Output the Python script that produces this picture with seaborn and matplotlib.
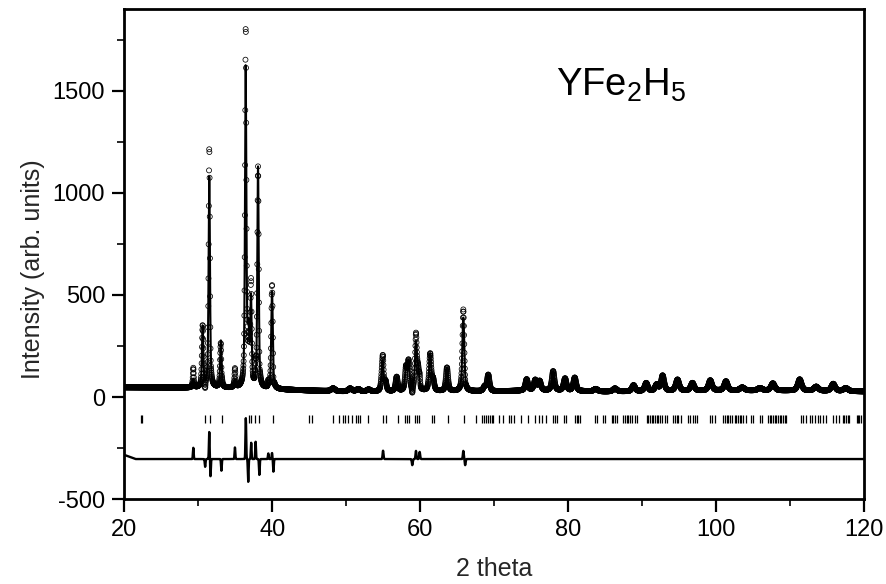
import numpy as np
import pandas as pd
import matplotlib
matplotlib.use("Agg")
import matplotlib.pyplot as plt
import seaborn as sns
from matplotlib.ticker import MultipleLocator

# ---------------- data ----------------
# Bragg peaks of the calculated profile: position (deg 2theta), height above background, FWHM (deg)
peak_pos = [29.30, 30.56, 31.46, 33.02, 34.93, 36.38, 36.75, 37.10, 38.05, 39.94,
            48.2, 50.5, 51.6, 53.0,
            54.87, 55.28, 56.79, 58.05, 58.40, 59.40, 59.71, 61.32, 61.72, 63.59,
            65.80, 68.67, 69.17, 74.36, 75.52, 76.12, 77.94, 79.55, 80.86,
            83.7, 86.3, 88.81, 90.52, 91.93, 92.74, 94.75, 96.77, 99.18, 101.30,
            103.5, 105.9, 107.64, 111.27, 113.5, 115.80, 117.5]
peak_amp = [40, 300, 1040, 230, 35, 1560, 250, 420, 1080, 480,
            14, 15, 12, 10,
            150, 45, 70, 110, 140, 230, 90, 180, 50, 115,
            360, 20, 80, 55, 50, 45, 95, 60, 65,
            12, 15, 30, 40, 30, 75, 55, 38, 50, 45,
            15, 12, 35, 55, 20, 35, 15]
peak_fwhm = [0.25, 0.22, 0.22, 0.22, 0.3, 0.22, 0.28, 0.22, 0.22, 0.24,
             0.6, 0.6, 0.6, 0.6,
             0.32, 0.32, 0.35, 0.32, 0.32, 0.32, 0.32, 0.34, 0.34, 0.35,
             0.32, 0.4, 0.4, 0.42, 0.42, 0.42, 0.42, 0.45, 0.45,
             0.6, 0.6, 0.5, 0.5, 0.5, 0.5, 0.55, 0.55, 0.55, 0.55,
             0.7, 0.7, 0.6, 0.6, 0.7, 0.6, 0.7]

# background of the pattern
bg_pos = [20, 25, 30, 35, 40, 45, 50, 55, 60, 70, 75, 80, 85, 90, 100, 110, 120]
bg_val = [48, 47, 45, 42, 38, 32, 27, 26, 28, 28, 32, 30, 27, 28, 32, 32, 28]

# misfit features (observed - calculated)
res_pos = [29.30, 30.90, 31.46, 31.62, 33.10, 34.93, 36.40, 36.72, 37.12, 37.72,
           38.23, 39.44, 39.94, 40.13, 54.95, 58.9, 59.40, 59.9, 65.80, 66.05]
res_amp = [55, -38, 135, -85, -57, 57, 200, -112, 80, 85,
           -78, 28, 30, -62, 41, -30, 40, 35, 40, -30]
res_wid = [0.05, 0.05, 0.05, 0.05, 0.05, 0.05, 0.05, 0.05, 0.05, 0.05,
           0.05, 0.05, 0.05, 0.05, 0.06, 0.06, 0.06, 0.06, 0.06, 0.06]

# offset of the difference curve
diff_base_pos = [20, 21.5, 120]
diff_base_val = [-283, -303, -303]

# reflection markers
refl_pos = [22.17, 22.35, 30.88, 31.55, 33.12, 36.86, 37.08, 37.64, 38.23, 40.13,
            44.98, 45.30, 48.18, 48.93, 49.58, 49.83, 50.23, 50.73, 51.23, 51.58,
            51.90, 52.98, 55.00, 55.30, 56.92, 57.95, 58.25, 58.50, 59.25, 59.50,
            59.80, 61.52, 61.83, 63.76, 65.92, 67.49, 68.39, 68.54, 68.84, 69.14,
            69.34, 69.64, 69.84, 70.65, 71.18, 71.99, 72.30, 72.62, 73.66, 74.56,
            75.46, 76.05, 76.50, 77.04, 77.96, 78.18, 78.49, 79.41, 79.67, 80.90,
            81.13, 81.35, 81.57, 83.60, 83.83, 84.73, 84.95, 85.85, 86.08, 86.30,
            86.53, 87.43, 87.65, 87.88, 88.10, 88.33, 88.55, 89.00, 89.23, 90.58,
            90.81, 91.03, 91.25, 91.48, 91.70, 91.93, 92.15, 92.38, 92.60, 93.04,
            93.27, 94.17, 94.40, 94.62, 94.84, 95.16, 96.20, 96.42, 96.87, 97.09,
            97.32, 99.12, 99.48, 99.80, 100.92, 101.15, 101.38, 101.60, 101.83, 102.05,
            102.50, 102.72, 102.95, 103.17, 103.39, 103.62, 103.98, 104.75, 104.97, 105.96,
            106.23, 107.00, 107.22, 107.44, 107.67, 107.89, 108.11, 108.34, 108.56, 108.79,
            109.01, 109.23, 109.46, 111.48, 111.70, 112.15, 112.70, 112.97, 113.28, 113.73,
            113.95, 114.40, 114.84, 115.75, 116.20, 116.64, 117.09, 117.31, 117.54, 117.76,
            117.98, 118.98, 119.20, 119.35, 119.57]
refl_level = -108

x_ticks = [20, 40, 60, 80, 100, 120]
y_ticks = [-500, 0, 500, 1000, 1500]

# ---------------- build profiles ----------------
two_theta = np.arange(20, 120.0001, 0.025)


def pseudo_voigt(x, x0, amp, fwhm, eta=0.55):
    d = (x - x0) / fwhm
    return amp * (eta / (1 + 4 * d ** 2) + (1 - eta) * np.exp(-4 * np.log(2) * d ** 2))


calc = np.interp(two_theta, bg_pos, bg_val).astype(float)
for p, a, w in zip(peak_pos, peak_amp, peak_fwhm):
    calc += pseudo_voigt(two_theta, p, a, w)

resid = np.zeros_like(two_theta)
for p, a, w in zip(res_pos, res_amp, res_wid):
    resid += a * np.exp(-0.5 * ((two_theta - p) / w) ** 2)

obs = calc + resid
diff = resid + np.interp(two_theta, diff_base_pos, diff_base_val)

df = pd.DataFrame({"tt": two_theta, "obs": obs, "calc": calc, "diff": diff})
df_refl = pd.DataFrame({"tt": refl_pos, "y": [refl_level] * len(refl_pos)})

# ---------------- draw ----------------
sns.set_style("ticks")
plt.rcParams["font.family"] = ["Liberation Sans", "DejaVu Sans"]
plt.rcParams["mathtext.default"] = "regular"
plt.rcParams["axes.unicode_minus"] = False

fig = plt.figure(figsize=(8.87, 5.84), dpi=100)
L, R, B, T = 124.5, 864.3, 499.3, 9.3
ax = fig.add_axes([L / 887, 1 - B / 584, (R - L) / 887, (B - T) / 584])

sns.scatterplot(data=df, x="tt", y="obs", ax=ax, marker="o", s=13,
                color="black", linewidth=0.55, legend=False, zorder=2)
ax.collections[-1].set_facecolor("none")
ax.collections[-1].set_edgecolor("black")
sns.lineplot(data=df, x="tt", y="calc", ax=ax, color="black", lw=1.5,
             estimator=None, sort=False, zorder=3)
sns.lineplot(data=df, x="tt", y="diff", ax=ax, color="black", lw=1.7,
             estimator=None, sort=False, zorder=3)
sns.scatterplot(data=df_refl, x="tt", y="y", ax=ax, marker="|", s=30,
                color="black", linewidth=0.9, legend=False, zorder=3)

ax.set_xlim(20, 120)
ax.set_ylim(-500, 1898)
ax.set_xticks(x_ticks)
ax.set_yticks(y_ticks)
ax.xaxis.set_minor_locator(MultipleLocator(10))
ax.yaxis.set_minor_locator(MultipleLocator(250))
ax.tick_params(axis="both", which="major", direction="out", length=9, width=1.6,
               labelsize=17, pad=5, colors="black")
ax.tick_params(axis="both", which="minor", direction="out", length=5, width=1.4)
for s in ax.spines.values():
    s.set_linewidth(2.0)
    s.set_color("black")

ax.set_xlabel("2 theta", fontsize=18)
ax.set_ylabel("Intensity (arb. units)", fontsize=18)
ax.xaxis.set_label_coords(0.5, -0.118)
ax.yaxis.set_label_coords(-0.108, 0.47)

ax.text(78.3, 1475, "YFe$_2$H$_5$", fontsize=27.5, color="black", ha="left", va="baseline")

fig.savefig("out.png", dpi=100)
